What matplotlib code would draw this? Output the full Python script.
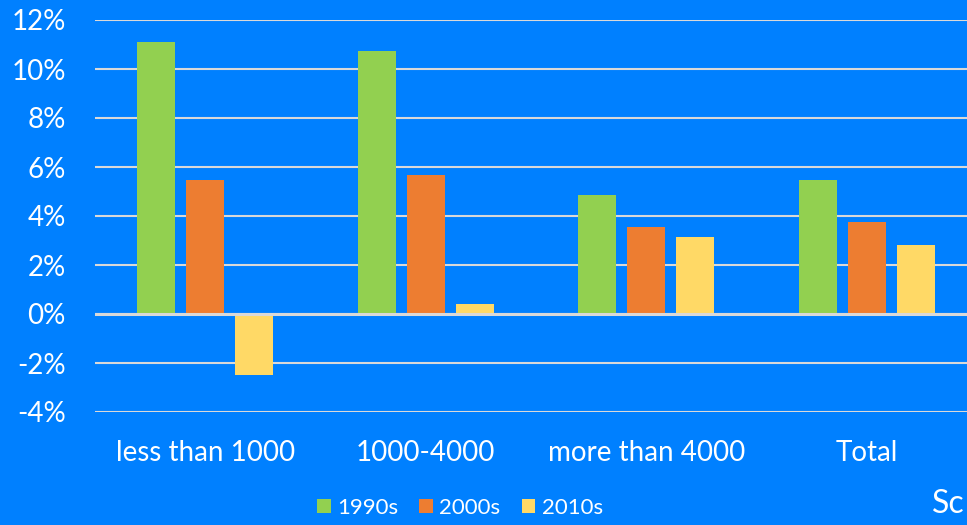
import matplotlib.pyplot as plt
import numpy as np

categories = ['less than 1000', '1000-4000', 'more than 4000', 'Total']
decades = ['1990s', '2000s', '2010s']
growth_1990s = [11.1, 10.75, 4.85, 5.45]
growth_2000s = [5.45, 5.67, 3.55, 3.77]
growth_2010s = [-2.5, 0.4, 3.13, 2.8]
y_ticks = [-4, -2, 0, 2, 4, 6, 8, 10, 12]

bg = '#0080FF'
colors = ['#92D050', '#ED7D31', '#FFD966']
plt.rcParams['font.family'] = ['Lato', 'DejaVu Sans']

fig = plt.figure(figsize=(9.67, 5.25), dpi=100)
fig.patch.set_facecolor(bg)
# plot area runs a bit past the right edge, like the cropped original
ax = fig.add_axes([95 / 967, 1 - 412 / 525, 882 / 967, (412 - 20) / 525])
ax.set_facecolor(bg)

x = np.arange(len(categories))
w = 0.172
step = 0.222
series = [growth_1990s, growth_2000s, growth_2010s]
for i, vals in enumerate(series):
    ax.bar(x + (i - 1) * step, vals, width=w, color=colors[i],
           label=decades[i], zorder=3)

ax.set_xlim(-0.5, len(categories) - 0.5)
ax.set_ylim(-4, 12)
ax.set_yticks(y_ticks)
ax.set_yticklabels([f'{t}%' for t in y_ticks])
ax.yaxis.grid(True, color='#D9D9D9', linewidth=1.5, zorder=0)
ax.axhline(0, color='#D9D9D9', linewidth=2.2, zorder=4)
for s in ax.spines.values():
    s.set_visible(False)
ax.tick_params(axis='y', length=0, pad=21, labelsize=20, labelcolor='white')
ax.set_xticks(x)
ax.set_xticklabels(categories)
ax.tick_params(axis='x', length=0, pad=20, labelsize=20, labelcolor='white')

leg = fig.legend(loc='center', bbox_to_anchor=(460 / 967, 1 - 508 / 525), ncol=3,
                 frameon=False, fontsize=16, handlelength=0.6, handleheight=0.6,
                 handletextpad=0.3, columnspacing=0.95, labelcolor='white')

fig.text(932 / 967, 1 - 504 / 525, 'Sc', color='white', fontsize=23,
         va='center', ha='left')

fig.savefig('out.png', dpi=100, facecolor=bg)
